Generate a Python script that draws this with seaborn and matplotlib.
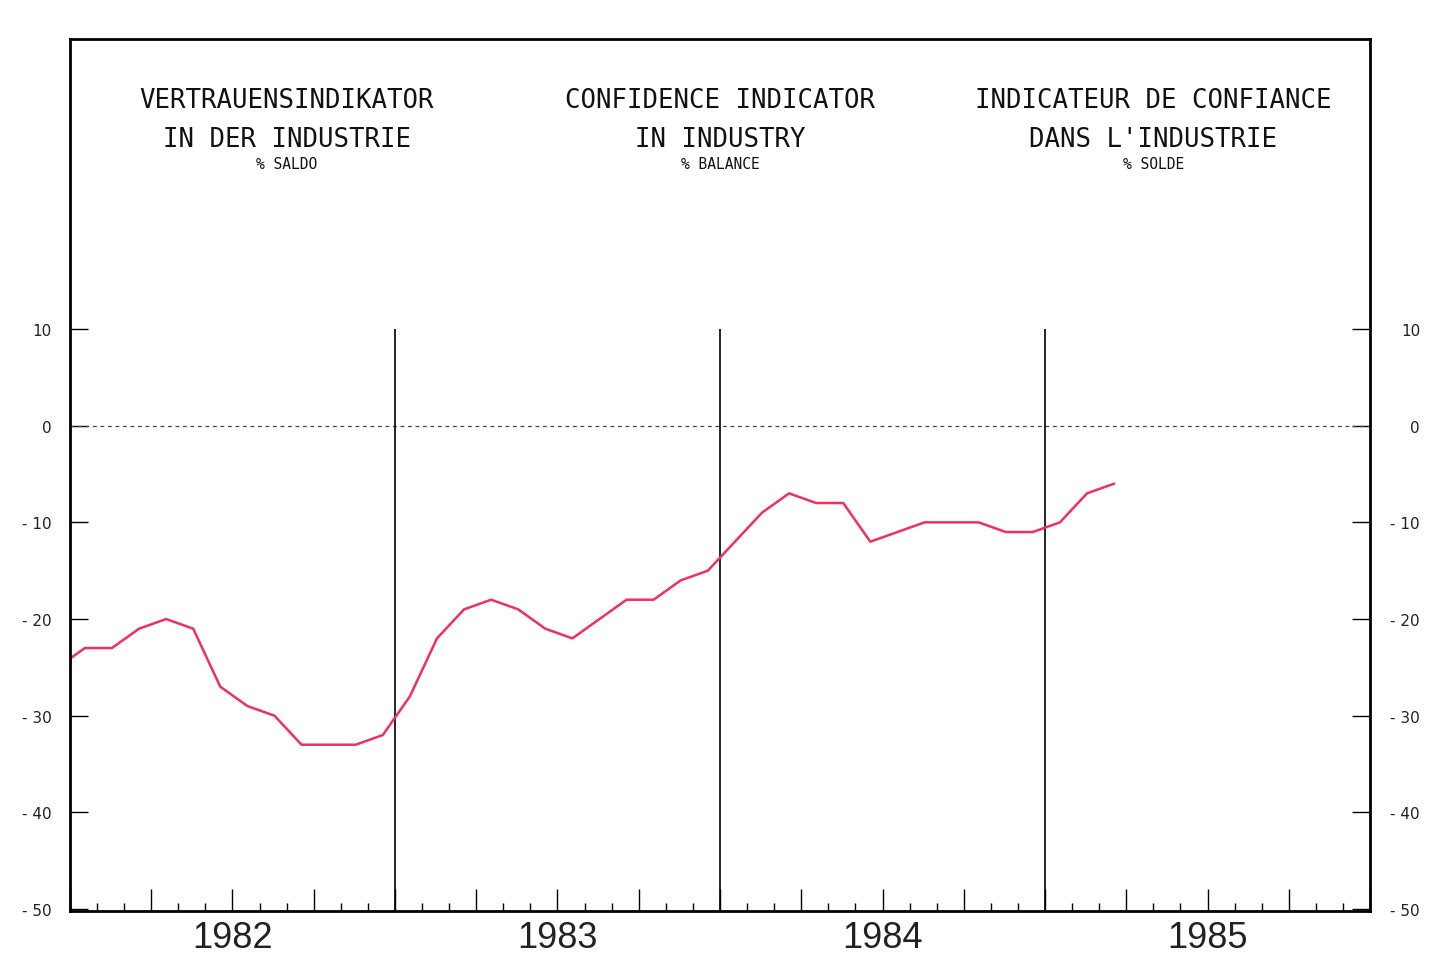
import matplotlib.pyplot as plt
import matplotlib.transforms as mtransforms
import pandas as pd
import seaborn as sns
from matplotlib.ticker import FixedLocator, MultipleLocator

# Monthly confidence indicator, % balance (Dec 1981 - Mar 1985)
start_month = '1981-12'
values = [-25,
          -23, -23, -21, -20, -21, -27, -29, -30, -33, -33, -33, -32,   # 1982
          -28, -22, -19, -18, -19, -21, -22, -20, -18, -18, -16, -15,   # 1983
          -12, -9, -7, -8, -8, -12, -11, -10, -10, -10, -11, -11,       # 1984
          -10, -7, -6]                                                  # 1985
years = [1982, 1983, 1984, 1985]
y_ticks = [10, 0, -10, -20, -30, -40, -50]
headers = [('VERTRAUENSINDIKATOR', 'IN DER INDUSTRIE', '% SALDO'),
           ('CONFIDENCE INDICATOR', 'IN INDUSTRY', '% BALANCE'),
           ('INDICATEUR DE CONFIANCE', "DANS L'INDUSTRIE", '% SOLDE')]

dates = pd.date_range(start_month, periods=len(values), freq='MS')
df = pd.DataFrame({'date': dates, 'value': values})
df['x'] = df['date'].dt.year + (df['date'].dt.month - 1 + 0.55) / 12

sns.set_style('white')
plt.rcParams['font.family'] = ['DejaVu Sans']

fig = plt.figure(figsize=(14.31, 9.78), dpi=100)
ax = fig.add_axes([0.0489, 0.0675, 0.9085, 0.8916])

sns.lineplot(data=df, x='x', y='value', color='#f2305c', linewidth=1.8, ax=ax)

ax.set_xlim(years[0], years[-1] + 1)
ax.set_ylim(-50.2, 40)
ax.set_xlabel('')
ax.set_ylabel('')

# zero line and year separators
ax.axhline(0, color='#444444', lw=0.9, ls=(0, (3, 3)), zorder=1)
ax.vlines(years[1:], -50.2, 10, color='black', lw=1.2, zorder=1)

for side in ['left', 'right', 'top', 'bottom']:
    ax.spines[side].set_visible(True)
    ax.spines[side].set_linewidth(2)
    ax.spines[side].set_color('black')

# y axis: inward ticks both sides, labels outside, right aligned
ax.yaxis.set_major_locator(FixedLocator(y_ticks))
ax.set_yticklabels(['- %d' % -v if v < 0 else str(v) for v in y_ticks])
ax.tick_params(axis='y', direction='in', left=True, right=True,
               labelleft=True, labelright=True, length=13, width=1,
               labelsize=11, color='black', labelcolor='#222222')
for t in ax.yaxis.get_major_ticks():
    t.label2.set_horizontalalignment('right')
    t.set_pad(13)
fig.canvas.draw()
for t in ax.yaxis.get_major_ticks():
    t.label2.set_transform(t.label2.get_transform() + mtransforms.ScaledTranslation(0.32, 0, fig.dpi_scale_trans))

# x axis: monthly minor ticks, quarterly major ticks
ax.xaxis.set_major_locator(MultipleLocator(0.25))
ax.xaxis.set_minor_locator(MultipleLocator(1 / 12))
ax.tick_params(axis='x', which='major', direction='in', length=16, width=1,
               bottom=True, labelbottom=False, color='black')
ax.tick_params(axis='x', which='minor', direction='in', length=6, width=1,
               bottom=True, color='black')

trans = mtransforms.blended_transform_factory(ax.transData, ax.transAxes)
for yr in years:
    ax.text(yr + 0.5, -0.030, str(yr), transform=trans, ha='center', va='center',
            fontsize=26, family='Liberation Sans', color='#222222')

for i, (l1, l2, l3) in enumerate(headers):
    xc = (2 * i + 1) / 6
    ax.text(xc, 0.930, l1, transform=ax.transAxes, ha='center', va='center',
            fontsize=18.5, family='DejaVu Sans Mono', color='#111111')
    ax.text(xc, 0.885, l2, transform=ax.transAxes, ha='center', va='center',
            fontsize=18.5, family='DejaVu Sans Mono', color='#111111')
    ax.text(xc, 0.857, l3, transform=ax.transAxes, ha='center', va='center',
            fontsize=10.5, family='DejaVu Sans Mono', color='#111111')

fig.savefig('out.png', dpi=100)
